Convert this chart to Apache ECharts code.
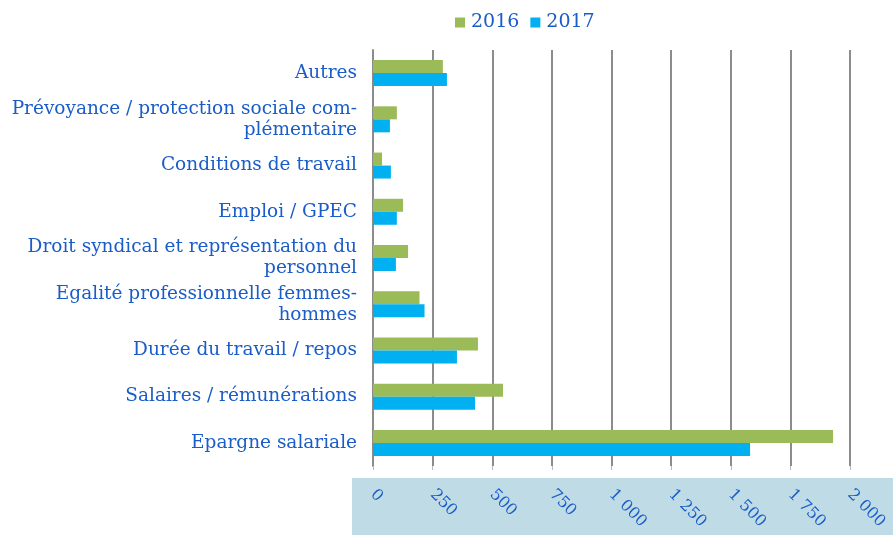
<!DOCTYPE html>
<html>
<head>
<meta charset="utf-8">
<script src="https://cdn.jsdelivr.net/npm/echarts@6/dist/echarts.min.js"></script>
<style>
html, body { margin: 0; padding: 0; background: #fff; }
#main { width: 893px; height: 535px; }
</style>
</head>
<body>
<div id="main"></div>
<script>
// catégories, du bas vers le haut
const categories = [
	'Epargne salariale',
	'Salaires / rémunérations',
	'Durée du travail / repos',
	'Egalité professionnelle femmes-\nhommes',
	'Droit syndical et représentation du\npersonnel',
	'Emploi / GPEC',
	'Conditions de travail',
	'Prévoyance / protection sociale com-\nplémentaire',
	'Autres'
];
const values2016 = [1929, 545, 440, 195, 147, 126, 38, 100, 293];
const values2017 = [1581, 428, 352, 216, 96, 100, 75, 71, 310];

const textColor = '#1a5cc8';
const fontName = 'DejaVu Serif';

var chart = echarts.init(document.getElementById('main'));

var option = {
	animation: false,
	textStyle: { fontFamily: fontName },
	legend: {
		top: 8,
		left: 450,
		itemWidth: 10,
		itemHeight: 10,
		itemGap: 11,
		icon: 'rect',
		textStyle: { color: textColor, fontSize: 19, fontFamily: fontName, padding: [0, 0, 0, 1] },
		data: ['2016', '2017']
	},
	graphic: [{
		type: 'rect',
		left: 352,
		top: 478,
		shape: { width: 541, height: 57 },
		style: { fill: '#bfdce6' },
		z: -1
	}],
	grid: {
		left: 373,
		right: 43,
		top: 50,
		bottom: 69
	},
	xAxis: {
		type: 'value',
		min: 0,
		max: 2000,
		interval: 250,
		axisLine: { show: false },
		axisTick: { show: true, length: 4, lineStyle: { color: '#bbbbbb' } },
		axisLabel: {
			rotate: -45,
			margin: 26,
			color: textColor,
			fontSize: 16,
			fontFamily: fontName,
			formatter: function (v) {
				return v >= 1000 ? String(v).replace(/(\d)(\d{3})$/, '$1 $2') : String(v);
			}
		},
		splitLine: { show: true, lineStyle: { color: '#8c8c8c', width: 2 } }
	},
	yAxis: {
		type: 'category',
		data: categories,
		axisLine: { show: true, lineStyle: { color: '#8c8c8c', width: 2 } },
		axisTick: { show: false },
		axisLabel: {
			margin: 16,
			color: textColor,
			fontSize: 18.5,
			lineHeight: 21,
			fontFamily: fontName,
			align: 'right'
		}
	},
	series: [
		{
			name: '2016',
			type: 'bar',
			data: values2016,
			barWidth: 13,
			barGap: '0%',
			itemStyle: { color: '#9bbb59' }
		},
		{
			name: '2017',
			type: 'bar',
			data: values2017,
			barWidth: 13,
			itemStyle: { color: '#00b0f0' }
		}
	]
};

chart.setOption(option);
</script>
</body>
</html>
